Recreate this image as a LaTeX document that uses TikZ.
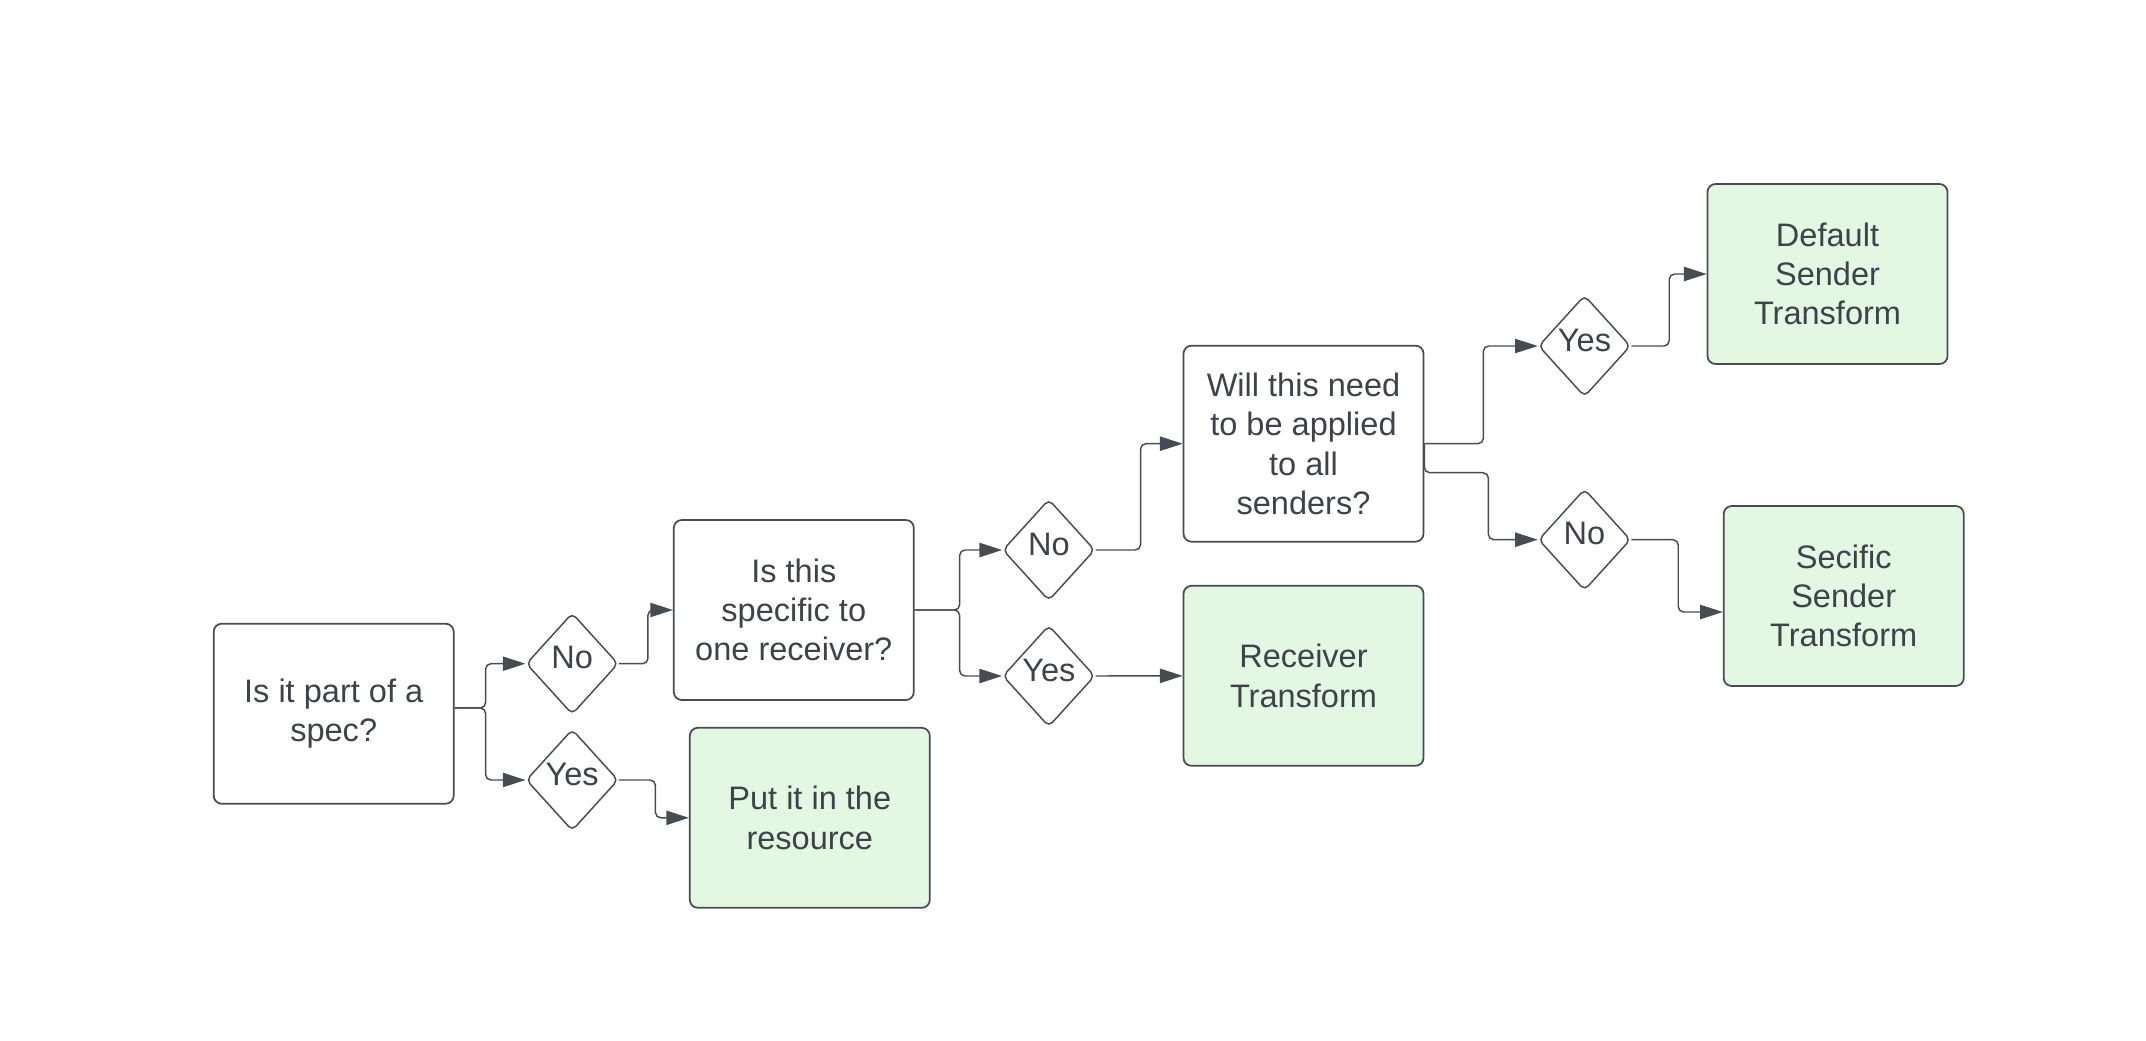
\documentclass[tikz,border=0pt]{standalone}
\usepackage{fontspec}
\setmainfont{Liberation Sans}
\usetikzlibrary{shapes.geometric,arrows.meta}

\definecolor{lineGray}{RGB}{71,76,83}
\definecolor{textGray}{RGB}{62,67,74}
\definecolor{doneGreen}{RGB}{227,247,226}

\tikzset{
  qbox/.style={draw=lineGray, line width=1.3pt, rounded corners=6pt, fill=white,
    minimum width=180pt, minimum height=135pt, inner sep=2pt, align=center,
    text=textGray, font=\fontsize{24.4pt}{29.5pt}\selectfont},
  endbox/.style={qbox, fill=doneGreen},
  choice/.style={diamond, draw=lineGray, line width=1.1pt, rounded corners=4pt, fill=white,
    minimum width=69pt, minimum height=76pt, inner sep=0pt, text depth=9pt,
    text=textGray, font=\fontsize{24.4pt}{29.5pt}\selectfont},
  conn/.style={draw=lineGray, line width=1.1pt, rounded corners=4pt,
    -{Triangle[length=17pt,width=10.7pt]}},
}

\begin{document}
\begin{tikzpicture}[x=0.75pt,y=0.75pt,yscale=-1,xscale=1]
\useasboundingbox (0,0) rectangle (2146,1040);

%Shape: Rectangle [spec]
\node[qbox] (spec) at (333.7,713.7) {Is it part of a\\spec?};
%Shape: Diamond [no1]
\node[choice] (no1) at (572.2,663.7) {No};
%Shape: Diamond [yes1]
\node[choice] (yes1) at (572.2,780) {Yes};
%Shape: Rectangle [specific]
\node[qbox] (specific) at (793.8,610) {Is this\\specific to\\one receiver?};
%Shape: Rectangle [put]
\node[endbox] (put) at (809.8,817.8) {Put it in the\\resource};
%Shape: Diamond [no2]
\node[choice] (no2) at (1048.8,550) {No};
%Shape: Diamond [yes2]
\node[choice] (yes2) at (1048.8,676) {Yes};
%Shape: Rectangle [will]
\node[qbox, minimum height=147pt] (will) at (1303.5,443.7) {Will this need\\to be applied\\to all\\senders?};
%Shape: Rectangle [recv]
\node[endbox] (recv) at (1303.5,675.8) {Receiver\\Transform};
%Shape: Diamond [yes3]
\node[choice] (yes3) at (1584.5,346) {Yes};
%Shape: Diamond [no3]
\node[choice] (no3) at (1584.5,539.7) {No};
%Shape: Rectangle [default]
\node[endbox] (default) at (1827.5,274) {Default\\Sender\\Transform};
%Shape: Rectangle [secific]
\node[endbox] (secific) at (1843.7,596) {Secific\\Sender\\Transform};

%Connectors
\draw[conn] ([yshift=-4.3pt]spec.east) -- ++(31,0) |- (no1.west);
\draw[conn] ([yshift=-4.3pt]spec.east) -- ++(31,0) |- (yes1.west);
\draw[conn] (no1.east) -- ++(29,0) |- (specific.west);
\draw[conn] (yes1.east) -- ++(36.5,0) |- (put.west);
\draw[conn] (specific.east) -- ++(45,0) |- (no2.west);
\draw[conn] (specific.east) -- ++(45,0) |- (yes2.west);
\draw[conn] (no2.east) -- ++(45,0) |- (will.west);
\draw[conn] (yes2.east) -- (recv.west);
\draw[conn] (will.east) -- ++(59,0) |- (yes3.west);
\draw[conn] (will.east) -- ++(0,29) -- ++(64,0) |- (no3.west);
\draw[conn] (yes3.east) -- ++(38,0) |- (default.west);
\draw[conn] (no3.east) -- ++(47,0) |- ([yshift=12pt]secific.west);

\end{tikzpicture}
\end{document}
